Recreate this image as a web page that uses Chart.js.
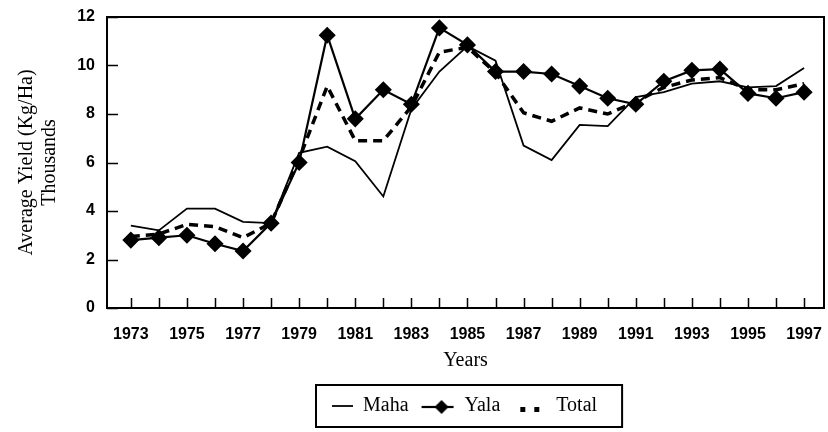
<!DOCTYPE html>
<html>
<head>
<meta charset="utf-8">
<script src="https://cdn.jsdelivr.net/npm/chart.js@4/dist/chart.umd.min.js"></script>
<style>
  html, body { margin: 0; padding: 0; background: #fff; }
  #wrap { width: 828px; height: 432px; }
</style>
</head>
<body>
<div id="wrap"><canvas id="yieldChart"></canvas></div>
<script>
// values (thousand kg/ha)
const years = [1973, 1974, 1975, 1976, 1977, 1978, 1979, 1980, 1981, 1982, 1983, 1984, 1985,
               1986, 1987, 1988, 1989, 1990, 1991, 1992, 1993, 1994, 1995, 1996, 1997];
const maha  = [3.4, 3.2, 4.1, 4.1, 3.55, 3.5, 6.4, 6.65, 6.05, 4.6, 8.2, 9.75, 10.8,
               10.2, 6.7, 6.1, 7.55, 7.5, 8.7, 8.9, 9.25, 9.35, 9.1, 9.15, 9.9];
const yala  = [2.8, 2.9, 3.0, 2.65, 2.35, 3.5, 6.0, 11.25, 7.8, 9.0, 8.4, 11.55, 10.85,
               9.75, 9.75, 9.65, 9.15, 8.65, 8.4, 9.35, 9.8, 9.85, 8.85, 8.65, 8.9];
const total = [2.95, 3.05, 3.45, 3.35, 2.9, 3.5, 6.15, 9.15, 6.9, 6.9, 8.3, 10.55, 10.75,
               9.7, 8.05, 7.7, 8.25, 8.0, 8.5, 9.1, 9.4, 9.5, 9.0, 9.0, 9.25];
const yTicks = [0, 2, 4, 6, 8, 10, 12];

const pts = arr => arr.map((v, i) => ({ x: years[i], y: v }));

// little legend symbols
function symbol(kind) {
  const c = document.createElement('canvas');
  c.width = kind === 'diamond' ? 40 : 30;
  c.height = 16;
  const g = c.getContext('2d');
  g.strokeStyle = '#000'; g.fillStyle = '#000';
  if (kind === 'line') {
    g.lineWidth = 1.8;
    g.beginPath(); g.moveTo(9, 8); g.lineTo(30, 8); g.stroke();
  } else if (kind === 'diamond') {
    g.lineWidth = 2.2;
    g.beginPath(); g.moveTo(2, 9); g.lineTo(34, 9); g.stroke();
    g.beginPath(); g.moveTo(22, 2); g.lineTo(29, 9); g.lineTo(22, 16); g.lineTo(15, 9); g.closePath(); g.fill();
  } else {
    g.fillRect(4, 9, 5, 5);
    g.fillRect(18, 9, 5, 5);
  }
  return c;
}
const symbols = [symbol('line'), symbol('diamond'), symbol('dash')];

const serif = "'Liberation Serif', 'Times New Roman', serif";
const sans = "'Liberation Sans', Arial, sans-serif";

const frame = {
  id: 'frame',
  afterUpdate(chart) {
    // place the legend row where it sits in the figure
    const lg = chart.legend;
    const boxes = lg.legendHitBoxes;
    if (!boxes || !boxes.length) return;
    const dx = 323 - boxes[0].left;
    const dy = 406 - (boxes[0].top + boxes[0].height / 2);
    lg.left += dx; lg.right += dx; lg.top += dy; lg.bottom += dy;
    boxes.forEach(b => { b.left += dx; b.top += dy; });
  },
  afterDraw(chart) {
    const ctx = chart.ctx;
    const a = chart.chartArea;
    const xs = chart.scales.x, ys = chart.scales.y;
    ctx.save();
    ctx.strokeStyle = '#000';
    ctx.lineWidth = 2;
    ctx.strokeRect(a.left, a.top, a.right - a.left, a.bottom - a.top);
    ctx.lineWidth = 1.5;
    ctx.beginPath();
    years.forEach(v => {
      const px = Math.round(xs.getPixelForValue(v)) + 0.5;
      ctx.moveTo(px, a.bottom); ctx.lineTo(px, a.bottom - 10);
    });
    yTicks.forEach(v => {
      const py = Math.round(ys.getPixelForValue(v)) + 0.5;
      ctx.moveTo(a.left, py); ctx.lineTo(a.left + 11, py);
    });
    ctx.stroke();
    // box round the legend
    const boxes = chart.legend.legendHitBoxes;
    if (boxes && boxes.length) {
      const l = boxes[0].left - 7;
      const last = boxes[boxes.length - 1];
      const r = last.left + last.width + 25;
      const cy = boxes[0].top + boxes[0].height / 2;
      ctx.lineWidth = 2;
      ctx.strokeRect(l, cy - 21, r - l, 42);
    }
    ctx.restore();
  }
};

new Chart(document.getElementById('yieldChart'), {
  type: 'line',
  data: {
    datasets: [{
      label: 'Maha',
      data: pts(maha),
      borderColor: '#000',
      borderWidth: 1.8,
      pointRadius: 0,
      tension: 0
    }, {
      label: 'Yala',
      data: pts(yala),
      borderColor: '#000',
      borderWidth: 2.2,
      pointStyle: 'rectRot',
      pointRadius: 7,
      pointBackgroundColor: '#000',
      pointBorderColor: '#000',
      tension: 0
    }, {
      label: 'Total',
      data: pts(total),
      borderColor: '#000',
      borderWidth: 3.5,
      borderDash: [9, 6],
      pointRadius: 0,
      tension: 0
    }]
  },
  options: {
    responsive: true,
    maintainAspectRatio: false,
    animation: false,
    layout: { autoPadding: false, padding: { top: 17, right: 4, bottom: 5, left: 0 } },
    plugins: {
      tooltip: { enabled: false },
      legend: {
        position: 'bottom',
        fullSize: false,
        labels: {
          color: '#000',
          font: { family: serif, size: 20 },
          usePointStyle: true,
          pointStyleWidth: 30,
          padding: 16,
          generateLabels(chart) {
            return chart.data.datasets.map((d, i) => ({
              text: d.label,
              pointStyle: symbols[i],
              fillStyle: '#000',
              strokeStyle: '#000',
              lineWidth: 0,
              fontColor: '#000',
              datasetIndex: i,
              hidden: false
            }));
          }
        }
      }
    },
    scales: {
      x: {
        type: 'linear',
        min: 1972.15,
        max: 1997.71,
        afterBuildTicks: s => { s.ticks = years.map(v => ({ value: v })); },
        afterFit: s => { s.height = 73; s.paddingLeft = 0; s.paddingRight = 0; },
        grid: { display: false, drawTicks: false },
        border: { display: false },
        ticks: {
          autoSkip: false,
          maxRotation: 0,
          padding: 17,
          color: '#000',
          font: { family: sans, size: 16, weight: 'bold' },
          callback: v => (v % 2 === 1 ? String(v) : '')
        },
        title: {
          display: true,
          text: 'Years',
          color: '#000',
          font: { family: serif, size: 20 },
          padding: { top: 0, bottom: 8 }
        }
      },
      y: {
        min: 0,
        max: 12,
        afterBuildTicks: s => { s.ticks = yTicks.map(v => ({ value: v })); },
        afterFit: s => { s.width = 107; s.paddingTop = 0; s.paddingBottom = 0; },
        grid: { display: false, drawTicks: false },
        border: { display: false },
        ticks: {
          padding: 12,
          color: '#000',
          font: { family: sans, size: 16, weight: 'bold' }
        },
        title: {
          display: true,
          text: ['Average Yield (Kg/Ha)', 'Thousands'],
          color: '#000',
          font: { family: serif, size: 20, lineHeight: 1.15 },
          padding: { top: 15, bottom: 0 }
        }
      }
    }
  },
  plugins: [frame]
});
</script>
</body>
</html>
